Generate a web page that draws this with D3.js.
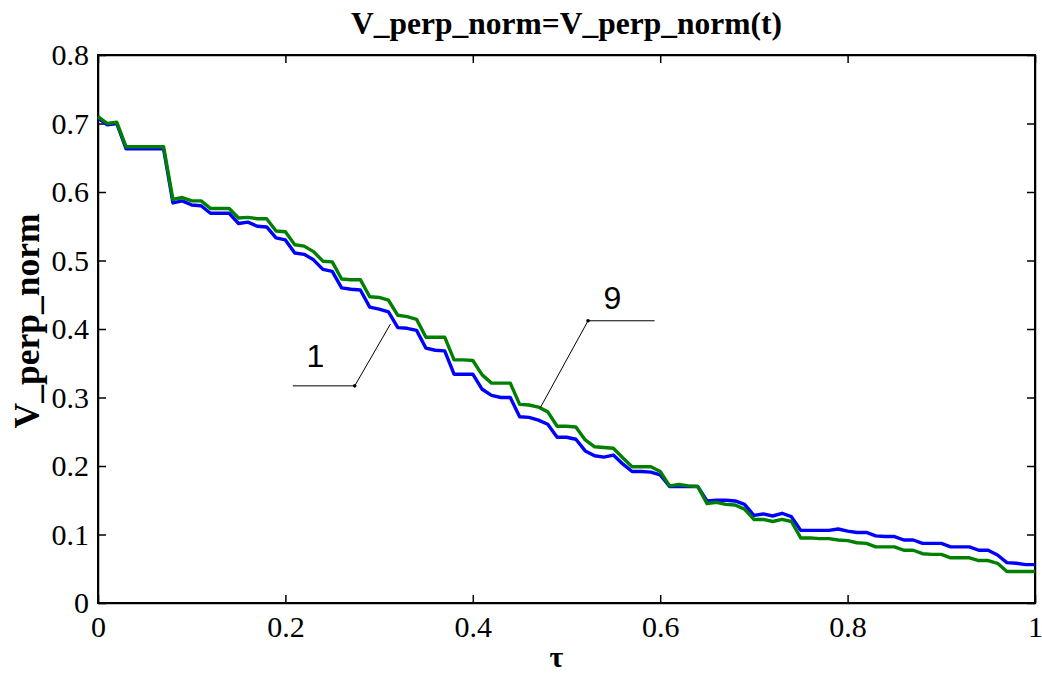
<!DOCTYPE html>
<html>
<head>
<meta charset="utf-8">
<script src="https://cdn.jsdelivr.net/npm/d3@7"></script>
<style>
  html, body { margin: 0; padding: 0; background: #fff; }
  svg { display: block; }
  .axis text { font-family: "Liberation Serif", "Times New Roman", serif; font-size: 30px; fill: #000; }
  .axis path, .axis line { stroke: #000; }
</style>
</head>
<body>
<div id="chart"></div>
<script>
// sample grid of tau, step 0.01
const tauCount = 101;
const tau = d3.range(tauCount).map(i => i / 100);

// curve "1" (blue)
const curve1 = [
  0.708, 0.698, 0.700, 0.663, 0.663, 0.663, 0.663, 0.663, 0.584, 0.587,
  0.581, 0.580, 0.569, 0.569, 0.569, 0.554, 0.556, 0.550, 0.549, 0.533,
  0.530, 0.511, 0.509, 0.501, 0.487, 0.484, 0.460, 0.458, 0.457, 0.432,
  0.429, 0.425, 0.402, 0.401, 0.398, 0.372, 0.369, 0.368, 0.334, 0.334,
  0.334, 0.312, 0.303, 0.300, 0.300, 0.272, 0.271, 0.267, 0.261, 0.242,
  0.242, 0.239, 0.222, 0.215, 0.213, 0.216, 0.203, 0.192, 0.192, 0.191,
  0.187, 0.170, 0.170, 0.170, 0.170, 0.149, 0.150, 0.150, 0.149, 0.144,
  0.128, 0.130, 0.127, 0.131, 0.126, 0.106, 0.106, 0.106, 0.106, 0.108,
  0.105, 0.103, 0.103, 0.098, 0.097, 0.097, 0.092, 0.092, 0.087, 0.087,
  0.087, 0.082, 0.082, 0.082, 0.077, 0.077, 0.070, 0.059, 0.058, 0.056,
  0.056
];

// curve "9" (green)
const curve9 = [
  0.710, 0.700, 0.702, 0.666, 0.666, 0.666, 0.666, 0.666, 0.589, 0.592,
  0.587, 0.587, 0.576, 0.576, 0.576, 0.562, 0.563, 0.561, 0.561, 0.543,
  0.542, 0.523, 0.521, 0.513, 0.499, 0.498, 0.473, 0.472, 0.472, 0.447,
  0.446, 0.442, 0.420, 0.418, 0.414, 0.388, 0.388, 0.388, 0.355, 0.355,
  0.354, 0.333, 0.321, 0.321, 0.321, 0.290, 0.289, 0.286, 0.279, 0.258,
  0.258, 0.257, 0.238, 0.228, 0.227, 0.226, 0.212, 0.199, 0.199, 0.199,
  0.192, 0.171, 0.173, 0.171, 0.170, 0.145, 0.147, 0.144, 0.143, 0.137,
  0.122, 0.122, 0.119, 0.122, 0.119, 0.095, 0.095, 0.094, 0.094, 0.092,
  0.091, 0.088, 0.087, 0.082, 0.082, 0.082, 0.077, 0.077, 0.072, 0.071,
  0.071, 0.066, 0.066, 0.066, 0.062, 0.062, 0.058, 0.046, 0.046, 0.046,
  0.046
];

const xTicks = [0, 0.2, 0.4, 0.6, 0.8, 1];
const yTicks = [0, 0.1, 0.2, 0.3, 0.4, 0.5, 0.6, 0.7, 0.8];

// callouts: label, label position, elbow, tail end, point on curve (data units)
const callouts = [
  { label: "1", tx: 0.232, ty: 0.344, ex: 0.274, ey: 0.317, hx: 0.208, px: 0.312, py: 0.407 },
  { label: "9", tx: 0.549, ty: 0.429, ex: 0.523, ey: 0.412, hx: 0.594, px: 0.472, py: 0.285 }
];

const W = 1042, H = 677;
const m = { left: 98, right: 1035, top: 55, bottom: 603 };

const svg = d3.select("#chart").append("svg")
  .attr("width", W).attr("height", H);

svg.append("rect").attr("width", W).attr("height", H).attr("fill", "#fff");

const x = d3.scaleLinear().domain([0, 1]).range([m.left, m.right]);
const y = d3.scaleLinear().domain([0, 0.8]).range([m.bottom, m.top]);

const fmt = d => d === 0 ? "0" : d === 1 ? "1" : d3.format(".1f")(d);

// axes, MATLAB style ticks pointing inward on all four sides
svg.append("g").attr("class", "axis")
  .attr("transform", `translate(0,${m.bottom})`)
  .call(d3.axisBottom(x).tickValues(xTicks).tickFormat(fmt).tickSizeInner(-8).tickSizeOuter(0).tickPadding(13));
svg.append("g").attr("class", "axis")
  .attr("transform", `translate(0,${m.top})`)
  .call(d3.axisTop(x).tickValues(xTicks).tickFormat("").tickSizeInner(-8).tickSizeOuter(0));
svg.append("g").attr("class", "axis")
  .attr("transform", `translate(${m.left},0)`)
  .call(d3.axisLeft(y).tickValues(yTicks).tickFormat(fmt).tickSizeInner(-8).tickSizeOuter(0).tickPadding(9));
svg.append("g").attr("class", "axis")
  .attr("transform", `translate(${m.right},0)`)
  .call(d3.axisRight(y).tickValues(yTicks).tickFormat("").tickSizeInner(-8).tickSizeOuter(0));

svg.selectAll(".axis .domain").attr("stroke-width", 1.5);
svg.selectAll(".axis .tick line").attr("stroke-width", 1.5);

svg.append("rect")
  .attr("x", m.left).attr("y", m.top)
  .attr("width", m.right - m.left).attr("height", m.bottom - m.top)
  .attr("fill", "none").attr("stroke", "#000").attr("stroke-width", 2);

// curves
const line = d3.line().x((d, i) => x(tau[i])).y(d => y(d));

svg.append("path").datum(curve1)
  .attr("fill", "none").attr("stroke", "#0000ff").attr("stroke-width", 3.4)
  .attr("stroke-linejoin", "round").attr("d", line);
svg.append("path").datum(curve9)
  .attr("fill", "none").attr("stroke", "#008000").attr("stroke-width", 3.4)
  .attr("stroke-linejoin", "round").attr("d", line);

// callouts
const co = svg.append("g").selectAll("g").data(callouts).join("g");
co.append("polyline")
  .attr("points", d => [[x(d.hx), y(d.ey)], [x(d.ex), y(d.ey)], [x(d.px), y(d.py)]].map(p => p.join(",")).join(" "))
  .attr("fill", "none").attr("stroke", "#000").attr("stroke-width", 1);
co.append("circle")
  .attr("cx", d => x(d.ex)).attr("cy", d => y(d.ey)).attr("r", 1.8).attr("fill", "#000");
co.append("text")
  .attr("x", d => x(d.tx)).attr("y", d => y(d.ty))
  .attr("text-anchor", "middle")
  .style("font-family", "'Liberation Sans', Arial, sans-serif")
  .style("font-size", "32px")
  .text(d => d.label);

// title and labels
svg.append("text")
  .attr("x", (m.left + m.right) / 2).attr("y", 34)
  .attr("text-anchor", "middle")
  .style("font-family", "'Liberation Serif', 'Times New Roman', serif")
  .style("font-weight", "bold").style("font-size", "31.5px")
  .text("V_perp_norm=V_perp_norm(t)");

svg.append("text")
  .attr("transform", "translate(39,321) rotate(-90)")
  .attr("text-anchor", "middle")
  .style("font-family", "'Liberation Serif', 'Times New Roman', serif")
  .style("font-weight", "bold").style("font-size", "35.5px")
  .text("V_perp_norm");

svg.append("text")
  .attr("x", (m.left + m.right) / 2 - 10).attr("y", 667)
  .attr("text-anchor", "middle")
  .style("font-family", "'Liberation Serif', 'Times New Roman', serif")
  .style("font-weight", "bold").style("font-size", "30px")
  .text("τ");
</script>
</body>
</html>
